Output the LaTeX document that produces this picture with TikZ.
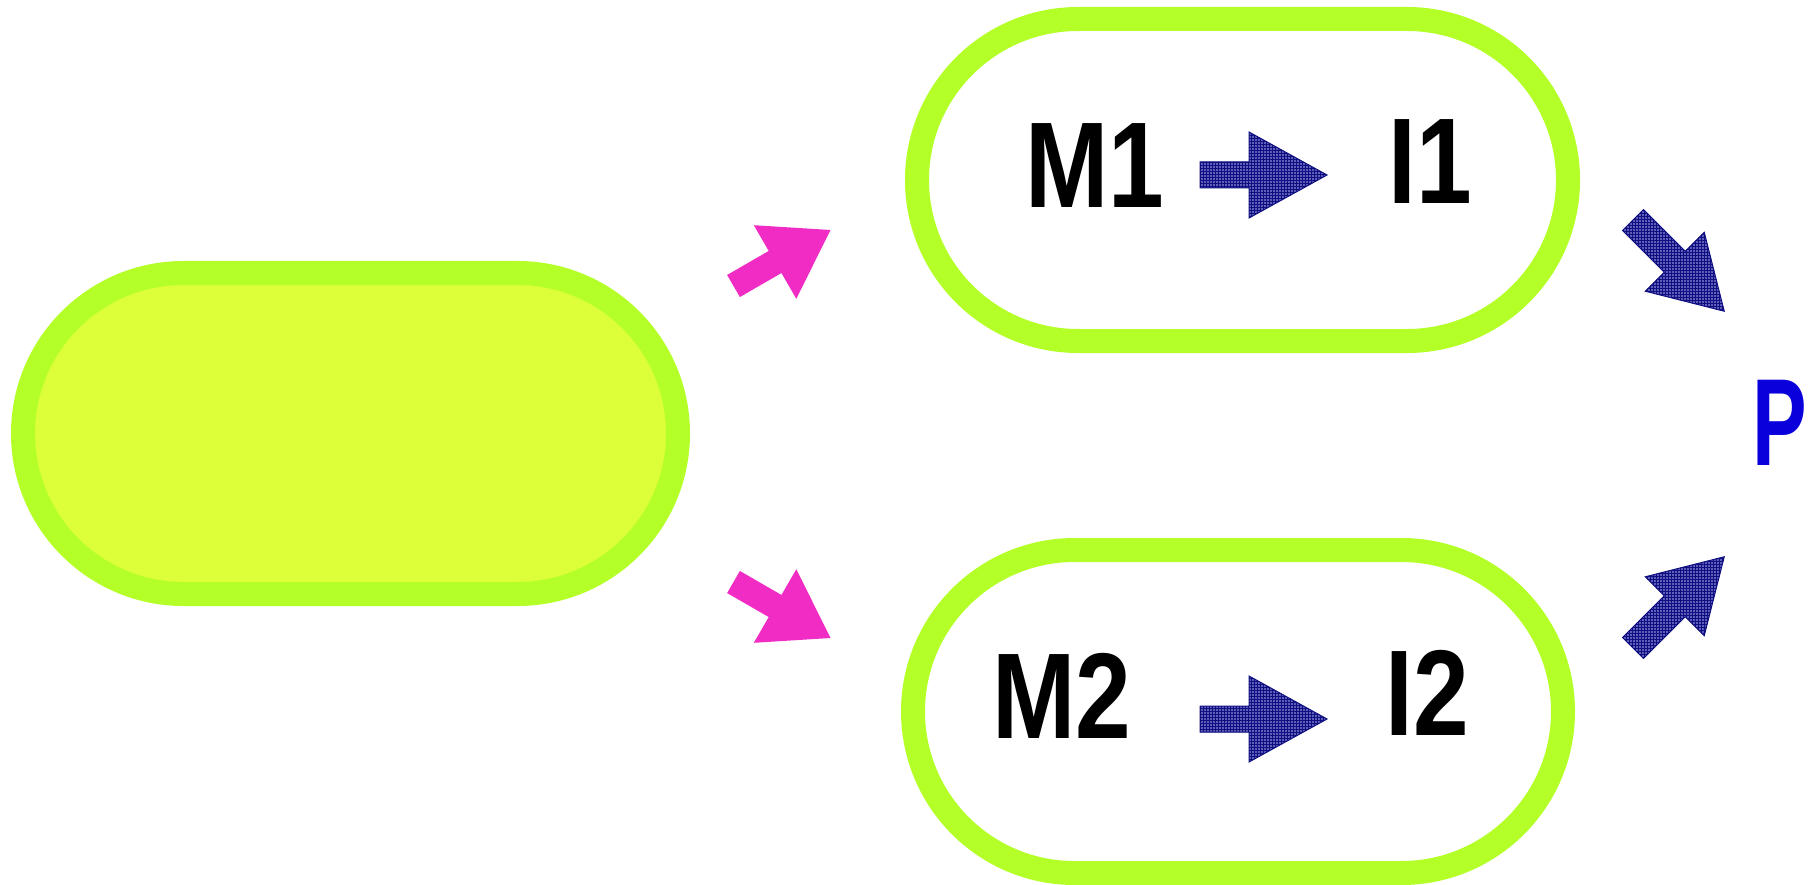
\documentclass[tikz,border=0pt]{standalone}
\usepackage{fontspec}
\setmainfont{Liberation Sans}
\usetikzlibrary{shapes.misc,patterns}
\definecolor{limeedge}{RGB}{180,255,40}
\definecolor{limefill}{RGB}{220,255,58}
\definecolor{pinkarrow}{RGB}{240,44,196}
\definecolor{navyarrow}{RGB}{15,15,130}
\definecolor{navylight}{RGB}{95,95,185}
\definecolor{pblue}{RGB}{10,0,220}
\tikzset{
  pill/.style={rounded rectangle, draw=limeedge, line width=24pt, inner sep=0pt},
  label text/.style={font=\bfseries\fontsize{122}{130}\selectfont, text=black, inner sep=0pt},
  pinkstyle/.style={fill=pinkarrow, draw=none},
  bluestyle/.style={fill=navylight, draw=navyarrow, line width=1pt},
  pics/barrow/.style n args={4}{code={
    \path[pic actions, postaction={pattern=grid, pattern color=navyarrow}] (0,-#3/2) -- ({#1-#2},-#3/2) -- ({#1-#2},-#4/2) -- (#1,0)
      -- ({#1-#2},#4/2) -- ({#1-#2},#3/2) -- (0,#3/2) -- cycle;
  }},
  pics/parrow/.style n args={4}{code={
    \path[pic actions] (0,-#3/2) -- ({#1-#2},-#3/2) -- ({#1-#2},-#4/2) -- (#1,0)
      -- ({#1-#2},#4/2) -- ({#1-#2},#3/2) -- (0,#3/2) -- cycle;
  }}
}
\begin{document}
\begin{tikzpicture}[x=1pt,y=-1pt]
\useasboundingbox (0,0) rectangle (1811,885);
% pills
\node[pill, fill=limefill, minimum width=655pt, minimum height=321pt] (src) at (350.5,433.5) {};
\node[pill, fill=white, minimum width=651pt, minimum height=322pt] (top) at (1242.5,180) {};
\node[pill, fill=white, minimum width=650pt, minimum height=323pt] (bot) at (1238,711.5) {};
% texts
\node[label text] (M1) at (1095,166) {\scalebox{0.82}[1]{M1}};
\node[label text] (I1) at (1430,162) {\scalebox{0.82}[1]{I1}};
\node[label text] (M2) at (1062,696) {\scalebox{0.82}[1]{M2}};
\node[label text] (I2) at (1427,693) {\scalebox{0.82}[1]{I2}};
\node[font=\bfseries\fontsize{124}{130}\selectfont, text=pblue, inner sep=0pt] (P) at (1780,423) {\scalebox{0.66}[1]{P}};
% pink arrows
\pic[pinkstyle, rotate=30] at (733.5,286) {parrow={112}{64}{25.5}{85}};
\pic[pinkstyle, rotate=-30] at (733.5,582) {parrow={112}{64}{25.5}{85}};
% blue arrows inside pills
\pic[bluestyle] at (1200,175) {barrow={127}{78}{26}{86}};
\pic[bluestyle] at (1200,719) {barrow={127}{78}{26}{86}};
% blue diagonal arrows to P
\pic[bluestyle, rotate=-45] at (1633,220) {barrow={129}{70}{29.7}{83.4}};
\pic[bluestyle, rotate=45] at (1633,648) {barrow={129}{70}{29.7}{83.4}};
\end{tikzpicture}
\end{document}
